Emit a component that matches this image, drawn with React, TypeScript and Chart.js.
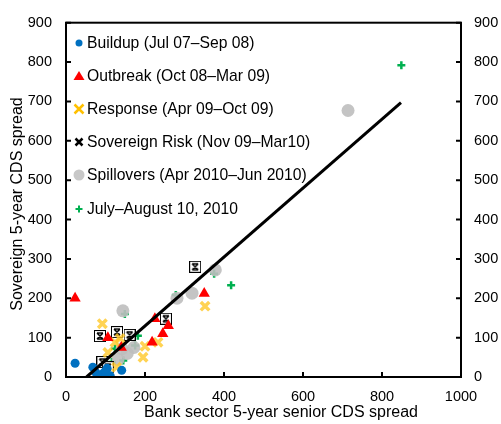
import React, { useEffect, useRef } from "react";
import { Chart, registerables } from "chart.js";

Chart.register(...registerables);

const X_TICKS = [0, 200, 400, 600, 800, 1000];
const Y_TICKS = [0, 100, 200, 300, 400, 500, 600, 700, 800, 900];

const buildup = [
  { x: 23, y: 35 }, { x: 68, y: 25 }, { x: 75, y: 12 }, { x: 88, y: 5 }, { x: 95, y: 10 },
  { x: 104, y: 22 }, { x: 112, y: 3 }, { x: 141, y: 17 }, { x: 80, y: 0 }, { x: 100, y: 15 },
];
const outbreak = [
  { x: 23, y: 200 }, { x: 106, y: 100 }, { x: 218, y: 88 }, { x: 225, y: 148 },
  { x: 245, y: 110 }, { x: 259, y: 130 }, { x: 350, y: 212 }, { x: 140, y: 75 },
];
const response = [
  { x: 92, y: 135 }, { x: 124, y: 88 }, { x: 106, y: 62 }, { x: 137, y: 98 }, { x: 128, y: 25 },
  { x: 200, y: 78 }, { x: 195, y: 50 }, { x: 233, y: 88 }, { x: 352, y: 180 },
];
const sovereign = [
  { x: 86, y: 104 }, { x: 129, y: 114 }, { x: 161, y: 107 }, { x: 327, y: 280 },
  { x: 253, y: 148 }, { x: 92, y: 38 }, { x: 106, y: 25 },
];
const spillovers = [
  { x: 714, y: 677 }, { x: 319, y: 213 }, { x: 378, y: 272 }, { x: 281, y: 200 },
  { x: 144, y: 168 }, { x: 142, y: 72 }, { x: 172, y: 75 }, { x: 132, y: 45 }, { x: 155, y: 60 },
];
const julyAug = [
  { x: 849, y: 792 }, { x: 375, y: 262 }, { x: 418, y: 233 }, { x: 278, y: 208 }, { x: 149, y: 160 },
  { x: 182, y: 105 }, { x: 175, y: 80 }, { x: 124, y: 72 }, { x: 145, y: 42 }, { x: 116, y: 38 },
];
const fitLine = [{ x: 52, y: 0 }, { x: 848, y: 697 }];

const LABELS = [
  "Buildup (Jul 07\u2013Sep 08)",
  "Outbreak (Oct 08\u2013Mar 09)",
  "Response (Apr 09\u2013Oct 09)",
  "Sovereign Risk (Nov 09\u2013Mar10)",
  "Spillovers (Apr 2010\u2013Jun 2010)",
  "July\u2013August 10, 2010",
];
const X_TITLE = "Bank sector 5-year senior CDS spread";
const Y_TITLE = "Sovereign 5-year CDS spread";

const FONT = "'Liberation Sans', Arial, sans-serif";

function makeBoxMarker() {
  const c = document.createElement("canvas");
  c.width = 12;
  c.height = 12;
  const g = c.getContext("2d")!;
  g.fillStyle = "#fff";
  g.fillRect(0.5, 0.5, 11, 11);
  g.strokeStyle = "#000";
  g.lineWidth = 1;
  g.strokeRect(0.5, 0.5, 11, 11);
  g.lineWidth = 1.5;
  g.beginPath();
  g.moveTo(3, 3); g.lineTo(9, 9);
  g.moveTo(9, 3); g.lineTo(3, 9);
  g.moveTo(3, 3); g.lineTo(9, 3);
  g.moveTo(3, 9); g.lineTo(9, 9);
  g.stroke();
  return c;
}

export default function App() {
  const ref = useRef<HTMLCanvasElement>(null);
  useEffect(() => {
    document.body.style.margin = "0";
    const boxMarker = makeBoxMarker();
    const frame = {
      id: "frame",
      afterDraw(chart: any) {
        const { ctx, chartArea } = chart;
        const { left, right, top, bottom } = chartArea;
        const xs = chart.scales.x;
        const ys = chart.scales.y;
        ctx.save();
        ctx.strokeStyle = "#000";
        ctx.lineWidth = 2;
        ctx.strokeRect(left, top, right - left, bottom - top);
        ctx.beginPath();
        X_TICKS.forEach((v) => {
          const px = xs.getPixelForValue(v);
          ctx.moveTo(px, bottom);
          ctx.lineTo(px, bottom - 5);
        });
        Y_TICKS.forEach((v) => {
          const py = ys.getPixelForValue(v);
          ctx.moveTo(left, py);
          ctx.lineTo(left + 5, py);
          ctx.moveTo(right, py);
          ctx.lineTo(right - 5, py);
        });
        ctx.stroke();

        // titles
        ctx.fillStyle = "#000";
        ctx.font = `16px ${FONT}`;
        ctx.textAlign = "center";
        ctx.textBaseline = "middle";
        ctx.fillText(X_TITLE, 281, 413);
        ctx.save();
        ctx.translate(18, 204);
        ctx.rotate(-Math.PI / 2);
        ctx.fillText(Y_TITLE, 0, 0);
        ctx.restore();

        // legend
        const lx = 79;
        const tx = 87;
        const ly = [43, 76, 109, 142, 175, 209];
        ctx.textAlign = "left";
        ctx.font = `15.7px ${FONT}`;
        LABELS.forEach((t, i) => {
          const y = ly[i];
          ctx.save();
          if (i === 0) {
            ctx.fillStyle = "#0070C0";
            ctx.beginPath();
            ctx.arc(lx, y, 3.5, 0, Math.PI * 2);
            ctx.fill();
          } else if (i === 1) {
            ctx.fillStyle = "#FF0000";
            ctx.beginPath();
            ctx.moveTo(lx, y - 5);
            ctx.lineTo(lx + 5.5, y + 4);
            ctx.lineTo(lx - 5.5, y + 4);
            ctx.closePath();
            ctx.fill();
          } else if (i === 2) {
            ctx.strokeStyle = "#FFC000";
            ctx.lineWidth = 2.5;
            ctx.beginPath();
            ctx.moveTo(lx - 4.5, y - 4.5); ctx.lineTo(lx + 4.5, y + 4.5);
            ctx.moveTo(lx + 4.5, y - 4.5); ctx.lineTo(lx - 4.5, y + 4.5);
            ctx.stroke();
          } else if (i === 3) {
            ctx.strokeStyle = "#000";
            ctx.lineWidth = 2.5;
            ctx.beginPath();
            ctx.moveTo(lx - 3.5, y - 3.5); ctx.lineTo(lx + 3.5, y + 3.5);
            ctx.moveTo(lx + 3.5, y - 3.5); ctx.lineTo(lx - 3.5, y + 3.5);
            ctx.stroke();
          } else if (i === 4) {
            ctx.fillStyle = "#C8C8C8";
            ctx.beginPath();
            ctx.arc(lx, y, 5.5, 0, Math.PI * 2);
            ctx.fill();
          } else {
            ctx.strokeStyle = "#00B050";
            ctx.lineWidth = 2;
            ctx.beginPath();
            ctx.moveTo(lx - 3.5, y); ctx.lineTo(lx + 3.5, y);
            ctx.moveTo(lx, y - 3.5); ctx.lineTo(lx, y + 3.5);
            ctx.stroke();
          }
          ctx.restore();
          ctx.fillStyle = "#000";
          ctx.fillText(t, tx, y + 1);
        });
        ctx.restore();
      },
    };

    const tickFmt = (v: any) => String(v);

    const chart = new Chart(ref.current!, {
      type: "scatter",
      data: {
        datasets: [
          {
            label: LABELS[0], data: buildup, pointStyle: "circle", pointRadius: 4.5,
            backgroundColor: "#0070C0", borderColor: "#0070C0", borderWidth: 0, order: 2,
          },
          {
            label: LABELS[1], data: outbreak, pointStyle: "triangle", pointRadius: 6.5,
            backgroundColor: "#FF0000", borderColor: "#FF0000", borderWidth: 0, order: 2,
          },
          {
            label: LABELS[2], data: response, pointStyle: "crossRot", pointRadius: 6,
            backgroundColor: "rgba(255,192,0,0.75)", borderColor: "rgba(255,200,40,0.8)", borderWidth: 3.5, order: 2,
          },
          {
            label: LABELS[3], data: sovereign, pointStyle: boxMarker as any, pointRadius: 6,
            backgroundColor: "#fff", borderColor: "#000", order: 2,
          },
          {
            label: LABELS[4], data: spillovers, pointStyle: "circle", pointRadius: 6.5,
            backgroundColor: "rgba(190,190,190,0.9)", borderColor: "rgba(190,190,190,0.9)", borderWidth: 0, order: 2,
          },
          {
            label: LABELS[5], data: julyAug, pointStyle: "cross", pointRadius: 4,
            backgroundColor: "#00B050", borderColor: "#00B050", borderWidth: 2.5, order: 2,
          },
          {
            type: "line" as any, label: "fit", data: fitLine, borderColor: "#000", borderWidth: 3,
            pointRadius: 0, fill: false, order: 0,
          } as any,
        ],
      },
      options: {
        animation: false,
        responsive: false,
        maintainAspectRatio: false,
        layout: { padding: { top: 17, left: 0, right: 0, bottom: 0 } },
        plugins: { legend: { display: false }, tooltip: { enabled: false } },
        scales: {
          x: {
            type: "linear", min: 0, max: 1000,
            afterBuildTicks: (s: any) => { s.ticks = X_TICKS.map((v) => ({ value: v })); },
            afterFit: (s: any) => { s.height = 47; },
            grid: { display: false, drawTicks: false },
            border: { display: false },
            ticks: { color: "#000", padding: 11, callback: tickFmt, font: { size: 14.5, family: FONT } },
          },
          y: {
            type: "linear", position: "left", min: 0, max: 900,
            afterBuildTicks: (s: any) => { s.ticks = Y_TICKS.map((v) => ({ value: v })); },
            afterFit: (s: any) => { s.width = 66; },
            grid: { display: false, drawTicks: false },
            border: { display: false },
            ticks: { color: "#000", padding: 14, callback: tickFmt, font: { size: 14.5, family: FONT } },
          },
          y2: {
            type: "linear", position: "right", min: 0, max: 900,
            afterBuildTicks: (s: any) => { s.ticks = Y_TICKS.map((v) => ({ value: v })); },
            afterFit: (s: any) => { s.width = 40; },
            grid: { display: false, drawTicks: false },
            border: { display: false },
            ticks: { color: "#000", padding: 13, callback: tickFmt, font: { size: 14.5, family: FONT } },
          },
        },
      },
      plugins: [frame],
    } as any);
    return () => chart.destroy();
  }, []);
  return <canvas ref={ref} width={501} height={424} style={{ display: "block" }} />;
}
